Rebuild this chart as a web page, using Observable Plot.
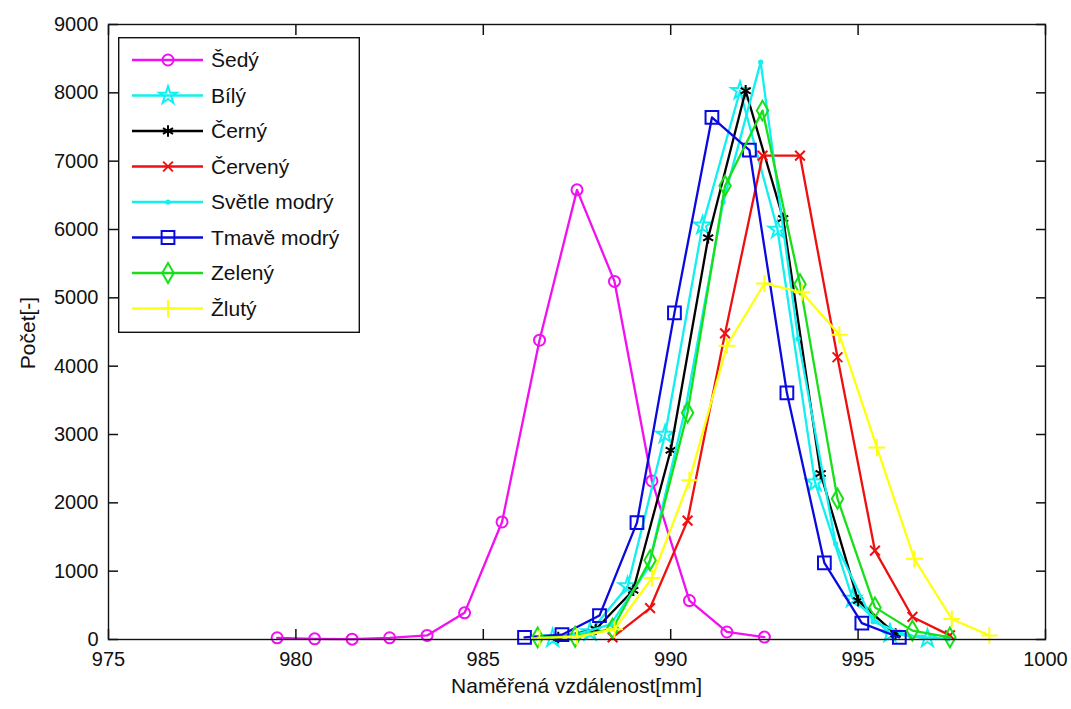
<!DOCTYPE html>
<html><head><meta charset="utf-8">
<script src="https://cdn.jsdelivr.net/npm/d3@7"></script>
<script src="https://cdn.jsdelivr.net/npm/@observablehq/plot@0.6"></script>
<style>
body{margin:0;background:#fff;}
#wrap{position:relative;width:1071px;height:709px;font-family:"Liberation Sans",Arial,sans-serif;color:#111;}
#legend{position:absolute;left:118px;top:37px;}
.xlab{position:absolute;left:0;width:1153px;top:674px;text-align:center;font-size:21px;}
.ylab{position:absolute;left:28px;top:333px;transform:translate(-50%,-50%) rotate(-90deg);font-size:21px;white-space:nowrap;}
</style></head><body><div id="wrap"></div>
<script>
// ---- data ----
const seriesNames = ["Šedý","Bílý","Černý","Červený","Světle modrý","Tmavě modrý","Zelený","Žlutý"];

const sedyX = [979.5,980.5,981.5,982.5,983.5,984.5,985.5,986.5,987.5,988.5,989.5,990.5,991.5,992.5];
const sedyY = [25,10,5,25,60,390,1720,4380,6580,5240,2320,570,110,35];

const bilyX = [986.85,987.85,988.85,989.85,990.85,991.85,992.85,993.85,994.85,995.85,996.85];
const bilyY = [20,110,780,3000,6060,8030,6000,2300,600,90,15];

const cernyX = [987,988,989,990,991,992,993,994,995,996];
const cernyY = [30,150,720,2770,5880,8030,6160,2430,570,80];

const cervenyX = [988.45,989.45,990.45,991.45,992.45,993.45,994.45,995.45,996.45,997.45];
const cervenyY = [30,460,1740,4480,7080,7080,4130,1300,330,60];

const svetleX = [986.4,987.4,988.4,989.4,990.4,991.4,992.4,993.4,994.4,995.4,996.4,997.4];
const svetleY = [20,60,220,1050,3400,6400,8450,4400,1400,260,45,10];

const tmaveX = [986.1,987.1,988.1,989.1,990.1,991.1,992.1,993.1,994.1,995.1,996.1];
const tmaveY = [30,70,350,1710,4780,7640,7160,3610,1120,240,30];

const zelenyX = [986.45,987.45,988.45,989.45,990.45,991.45,992.45,993.45,994.45,995.45,996.45,997.45];
const zelenyY = [30,40,160,1160,3320,6640,7740,5200,2060,470,130,30];

const zlutyX = [986.5,987.5,988.5,989.5,990.5,991.5,992.5,993.5,994.5,995.5,996.5,997.5,998.5];
const zlutyY = [20,40,150,900,2330,4300,5210,5080,4460,2810,1180,300,60];

const xTicks = [975,980,985,990,995,1000];
const yTicks = [0,1000,2000,3000,4000,5000,6000,7000,8000,9000];
const xDomain = [975,1000];
const yDomain = [0,9000];
const xLabel = "Naměřená vzdálenost[mm]";
const yLabel = "Počet[-]";

// ---- styles ----
const seriesX = [sedyX,bilyX,cernyX,cervenyX,svetleX,tmaveX,zelenyX,zlutyX];
const seriesY = [sedyY,bilyY,cernyY,cervenyY,svetleY,tmaveY,zelenyY,zlutyY];
const colors  = ["#f010f0","#10f0f0","#000000","#ee1010","#10f0f0","#0a0ae0","#18e018","#ffff10"];
const symbols = ["circle","star","asterisk","times","circle","square","diamond","plus"];
const radii   = [5.5,5.5,5.5,4.5,1.6,7.2,6,5.5];
const filled  = [false,false,false,false,true,false,false,false];

const tables = seriesNames.map((name,i)=>seriesX[i].map((x,j)=>({name,x,y:seriesY[i][j]})));

const marks = [];
tables.forEach((t,i)=>{
  marks.push(Plot.line(t,{x:"x",y:"y",stroke:colors[i],strokeWidth:2.3}));
  marks.push(Plot.dot(t,{x:"x",y:"y",symbol:symbols[i],r:radii[i],stroke:colors[i],
    fill: filled[i]?colors[i]:"none",strokeWidth:2}));
});

const W=1071, H=709, mL=108, mR=26, mT=24, mB=70;
const fmt = d3.format("d");
const T = 10; // inward tick length in px

const chart = Plot.plot({
  width:W, height:H,
  marginLeft:mL, marginRight:mR, marginTop:mT, marginBottom:mB,
  style:{fontFamily:'"Liberation Sans",Arial,sans-serif',fontSize:"20px",color:"#111",background:"#fff"},
  x:{domain:xDomain, ticks:xTicks},
  y:{domain:yDomain, ticks:yTicks},
  marks:[
    ...marks,
    Plot.frame({stroke:"#111",strokeWidth:1.4}),
    Plot.axisX({ticks:xTicks,anchor:"bottom",tickSize:T,tickPadding:12-T,tickFormat:fmt,label:null,strokeWidth:1.5,className:"tk-b"}),
    Plot.axisX({ticks:xTicks,anchor:"top",tickSize:T,tickFormat:()=>"",label:null,strokeWidth:1.5,className:"tk-t"}),
    Plot.axisY({ticks:yTicks,anchor:"left",tickSize:T,tickPadding:10-T,tickFormat:fmt,label:null,strokeWidth:1.5,className:"tk-l"}),
    Plot.axisY({ticks:yTicks,anchor:"right",tickSize:T,tickFormat:()=>"",label:null,strokeWidth:1.5,className:"tk-r"})
  ]
});
const wrap = document.getElementById("wrap");
wrap.appendChild(chart);

// Flip the tick marks so they point inward (MATLAB style)
const svg = d3.select(chart);
svg.selectAll("g[aria-label='x-axis tick'] path").each(function(){
  const el = d3.select(this); const t = el.attr("transform")||"";
  el.attr("transform", t + " scale(1,-1)");
});
svg.selectAll("g[aria-label='y-axis tick'] path").each(function(){
  const el = d3.select(this); const t = el.attr("transform")||"";
  el.attr("transform", t + " scale(-1,1)");
});

const xl = document.createElement("div"); xl.className="xlab"; xl.textContent=xLabel; wrap.appendChild(xl);
const yl = document.createElement("div"); yl.className="ylab"; yl.textContent=yLabel; wrap.appendChild(yl);

// legend
const lw=242, lh=296;
const leg = d3.select(wrap).append("svg").attr("id","legend").attr("width",lw).attr("height",lh);
leg.append("rect").attr("x",0.7).attr("y",0.7).attr("width",lw-1.4).attr("height",lh-1.4)
  .attr("fill","#fff").attr("stroke","#111").attr("stroke-width",1.4);
const symMap = {circle:d3.symbolCircle,star:d3.symbolStar,asterisk:d3.symbolAsterisk,times:d3.symbolTimes,
  square:d3.symbolSquare,diamond:d3.symbolDiamond,plus:d3.symbolPlus};
seriesNames.forEach((name,i)=>{
  const cy = 23 + i*35.5;
  const g = leg.append("g").attr("transform",`translate(0,${cy})`);
  g.append("line").attr("x1",14).attr("x2",85).attr("y1",0).attr("y2",0)
    .attr("stroke",colors[i]).attr("stroke-width",2.3);
  g.append("path").attr("transform","translate(50,0)")
    .attr("d",d3.symbol(symMap[symbols[i]],Math.PI*radii[i]*radii[i])())
    .attr("fill",filled[i]?colors[i]:"none").attr("stroke",colors[i]).attr("stroke-width",2);
  g.append("text").attr("x",93).attr("y",0).attr("dy","0.35em")
    .attr("font-family",'"Liberation Sans",Arial,sans-serif').attr("font-size",21).attr("fill","#111")
    .text(name);
});
</script></body></html>
